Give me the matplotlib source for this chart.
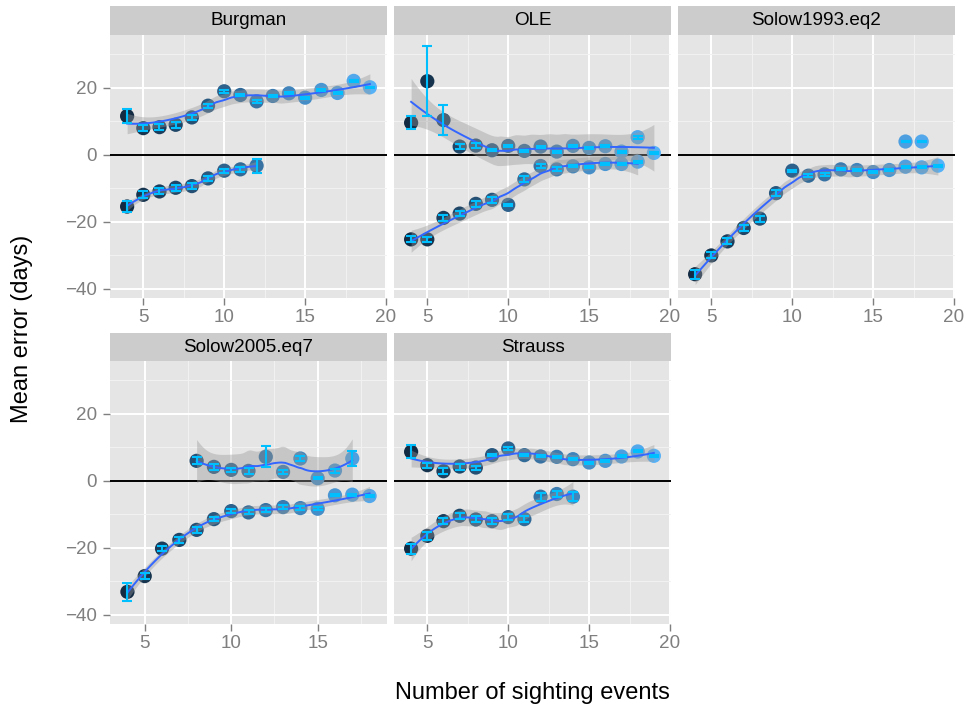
import numpy as np
import matplotlib
matplotlib.use("Agg")
import matplotlib.pyplot as plt
from matplotlib.colors import LinearSegmentedColormap, Normalize

plt.rcParams['font.family'] = ['Liberation Sans', 'DejaVu Sans']

# ---- data ----
panels = ["Burgman", "OLE", "Solow1993.eq2", "Solow2005.eq7", "Strauss"]

ev_4_19 = [4, 5, 6, 7, 8, 9, 10, 11, 12, 13, 14, 15, 16, 17, 18, 19]
ev_4_18 = [4, 5, 6, 7, 8, 9, 10, 11, 12, 13, 14, 15, 16, 17, 18]
ev_4_14 = [4, 5, 6, 7, 8, 9, 10, 11, 12, 13, 14]
ev_4_12 = [4, 5, 6, 7, 8, 9, 10, 11, 12]
ev_8_17 = [8, 9, 10, 11, 12, 13, 14, 15, 16, 17]
ev_17_18 = [17, 18]

burgman_hi = [11.6, 8.0, 8.3, 9.0, 11.2, 14.7, 19.0, 17.9, 16.0, 17.6, 18.4, 17.1, 19.4, 18.5, 22.1, 20.2]
burgman_hi_err = [2.0, 0.9, 0.9, 0.9, 0.8, 0.6, 0.4, 0.4, 0.5, 0.3, 0.3, 0.3, 0.3, 0.3, 0.4, 0.2]
burgman_lo = [-15.4, -11.9, -10.9, -9.8, -9.3, -7.0, -4.7, -4.3, -3.2]
burgman_lo_err = [1.6, 1.0, 0.9, 0.9, 0.8, 0.7, 0.6, 0.7, 2.1]

ole_hi = [9.6, 22.0, 10.4, 2.5, 2.8, 1.4, 2.7, 1.2, 2.5, 1.0, 2.7, 2.1, 2.6, 1.0, 5.3, 0.6]
ole_hi_err = [2.0, 10.4, 4.4, 0.8, 0.8, 0.3, 0.3, 0.3, 0.3, 0.3, 0.3, 0.3, 0.3, 0.3, 0.4, 0.2]
ole_lo = [-25.2, -25.2, -18.8, -17.5, -14.6, -13.4, -14.9, -7.3, -3.3, -4.3, -3.4, -3.7, -2.7, -2.7, -2.0]
ole_lo_err = [0.9, 0.8, 0.9, 0.8, 0.8, 0.8, 0.3, 0.9, 0.7, 0.6, 0.3, 0.3, 0.3, 0.3, 0.3]

solow93_hi = [4.0, 4.0]
solow93_hi_err = [0.2, 0.2]
solow93_lo = [-35.6, -30.0, -25.8, -21.8, -19.0, -11.4, -4.7, -6.2, -5.8, -4.3, -4.5, -5.1, -4.5, -3.5, -3.7, -3.2]
solow93_lo_err = [1.3, 0.9, 0.9, 0.9, 0.9, 0.8, 0.3, 0.4, 0.4, 0.3, 0.3, 0.3, 0.3, 0.3, 0.3, 0.3]

solow05_hi = [6.0, 4.2, 3.3, 3.0, 7.2, 2.7, 6.7, 0.8, 3.1, 6.7]
solow05_hi_err = [1.0, 0.8, 0.6, 0.8, 3.1, 0.6, 0.6, 0.3, 0.6, 2.1]
solow05_lo = [-33.1, -28.4, -20.2, -17.6, -14.6, -11.4, -9.0, -9.4, -8.7, -7.8, -8.1, -8.3, -4.3, -4.1, -4.5]
solow05_lo_err = [2.7, 1.0, 0.8, 0.8, 0.8, 0.7, 0.6, 0.6, 0.6, 0.6, 0.5, 0.4, 0.3, 0.3, 0.3]

strauss_hi = [8.7, 4.7, 2.9, 4.3, 4.0, 7.7, 9.7, 7.7, 7.3, 7.2, 6.5, 5.5, 6.0, 7.3, 8.8, 7.5]
strauss_hi_err = [2.0, 0.8, 0.9, 0.9, 0.6, 0.4, 0.4, 0.4, 0.3, 0.3, 0.3, 0.3, 0.3, 0.3, 0.3, 0.3]
strauss_lo = [-20.2, -16.4, -12.0, -10.4, -11.5, -12.0, -10.8, -11.4, -4.7, -3.9, -4.7]
strauss_lo_err = [1.5, 1.3, 1.0, 0.9, 0.9, 0.9, 0.9, 0.9, 1.2, 1.0, 1.3]

series = {
    "Burgman": [(ev_4_19, burgman_hi, burgman_hi_err), (ev_4_12, burgman_lo, burgman_lo_err)],
    "OLE": [(ev_4_19, ole_hi, ole_hi_err), (ev_4_18, ole_lo, ole_lo_err)],
    "Solow1993.eq2": [(ev_17_18, solow93_hi, solow93_hi_err), (ev_4_19, solow93_lo, solow93_lo_err)],
    "Solow2005.eq7": [(ev_8_17, solow05_hi, solow05_hi_err), (ev_4_18, solow05_lo, solow05_lo_err)],
    "Strauss": [(ev_4_19, strauss_hi, strauss_hi_err), (ev_4_14, strauss_lo, strauss_lo_err)],
}


def tq975(df):
    # Cornish-Fisher approximation of the t quantile
    z = 1.959964
    g1 = (z**3 + z) / 4
    g2 = (5*z**5 + 16*z**3 + 3*z) / 96
    g3 = (3*z**7 + 19*z**5 + 17*z**3 - 15*z) / 384
    g4 = (79*z**9 + 776*z**7 + 1482*z**5 - 1920*z**3 - 945*z) / 92160
    return z + g1/df + g2/df**2 + g3/df**3 + g4/df**4


def loess(x, y, xg, span=0.75):
    x = np.asarray(x, float)
    y = np.asarray(y, float)
    n = len(x)
    q = int(np.floor(n * span))

    def lrow(x0):
        d = np.abs(x - x0)
        dmax = np.sort(d)[q - 1] * 1.0001
        w = np.clip(1 - (d / dmax)**3, 0, None)**3
        X = np.vstack([np.ones(n), x - x0, (x - x0)**2]).T
        XtW = X.T * w
        return np.linalg.solve(XtW @ X, XtW)[0]

    L = np.array([lrow(v) for v in x])
    M = (np.eye(n) - L).T @ (np.eye(n) - L)
    d1 = np.trace(M)
    d2 = np.trace(M @ M)
    s = np.sqrt(np.sum((y - L @ y)**2) / d1)
    Lg = np.array([lrow(v) for v in xg])
    fit = Lg @ y
    se = s * np.sqrt(np.sum(Lg**2, axis=1))
    t = tq975(d1**2 / d2)
    return fit, fit - t*se, fit + t*se


cmap = LinearSegmentedColormap.from_list("gg", ["#132B43", "#56B1F7"])
norm = Normalize(4, 19)

W, H = 968, 710
fig = plt.figure(figsize=(W/100, H/100), dpi=100)

cols = [(110, 387), (394, 671), (678, 955)]
rows = [(6, 35, 298), (333, 361, 624)]
ylim = (-42.7, 35.8)
bar_w = 0.56

for i, name in enumerate(panels):
    r, c = divmod(i, 3)
    x0, x1 = cols[c]
    st, pt, pb = rows[r]
    ax = fig.add_axes([x0/W, 1 - pb/H, (x1-x0)/W, (pb-pt)/H])
    sax = fig.add_axes([x0/W, 1 - pt/H, (x1-x0)/W, (pt-st)/H])
    sax.set_facecolor("#CCCCCC")
    sax.set_xticks([]); sax.set_yticks([])
    for sp in sax.spines.values():
        sp.set_visible(False)
    sax.text(0.5, 0.5, name, ha="center", va="center", fontsize=13.6, color="black",
             transform=sax.transAxes)

    ax.set_facecolor("#E5E5E5")
    for sp in ax.spines.values():
        sp.set_visible(False)
    ax.set_axisbelow(True)

    ax.set_xticks([5, 10, 15, 20])
    ax.set_xticks([7.5, 12.5, 17.5], minor=True)
    ax.set_yticks([-40, -20, 0, 20])
    ax.set_yticks([-30, -10, 10, 30], minor=True)

    # free x scale per panel: data range plus error-bar width, 5% expansion
    allx = np.concatenate([np.asarray(s[0], float) for s in series[name]])
    lo, hi = allx.min() - bar_w/2, allx.max() + bar_w/2
    pad = 0.05 * (hi - lo)
    ax.set_xlim(lo - pad, hi + pad)
    ax.set_ylim(*ylim)

    ax.grid(which="major", color="white", linewidth=1.4)
    ax.grid(which="minor", color="#F2F2F2", linewidth=0.7)
    ax.tick_params(which="minor", length=0)
    ax.tick_params(axis="x", which="major", length=5, width=1, color="#7F7F7F",
                   labelcolor="#7F7F7F", labelsize=13.6, pad=3)
    ax.tick_params(axis="y", which="major", length=5, width=1, color="#7F7F7F",
                   labelcolor="#7F7F7F", labelsize=13.6, pad=4.5)
    if c != 0:
        ax.tick_params(axis="y", which="major", left=False, labelleft=False)

    ax.axhline(0, color="black", linewidth=1.4, zorder=1.5)

    for xs, ys, es in series[name]:
        xs = np.asarray(xs, float)
        ys = np.asarray(ys, float)
        ax.scatter(xs, ys, c=xs, cmap=cmap, norm=norm, s=105, linewidths=0, zorder=2)
        if len(xs) >= 5:
            xg = np.linspace(xs.min(), xs.max(), 80)
            fit, lw, up = loess(xs, ys, xg)
            ax.fill_between(xg, lw, up, color="#999999", alpha=0.4, linewidth=0, zorder=3)
            ax.plot(xg, fit, color="#3366FF", linewidth=1.4, zorder=4)
        ax.errorbar(xs, ys, yerr=es, fmt="none", ecolor="#00BFFF", elinewidth=1.5,
                    capsize=3.6, capthick=1.5, zorder=5)

fig.text(22/W, 1 - 329/H, "Mean error (days)", rotation=90, ha="center", va="center",
         fontsize=17)
fig.text(532/W, 1 - 693/H, "Number of sighting events", ha="center", va="center",
         fontsize=17)

fig.savefig("out.png", dpi=100, facecolor="white")
